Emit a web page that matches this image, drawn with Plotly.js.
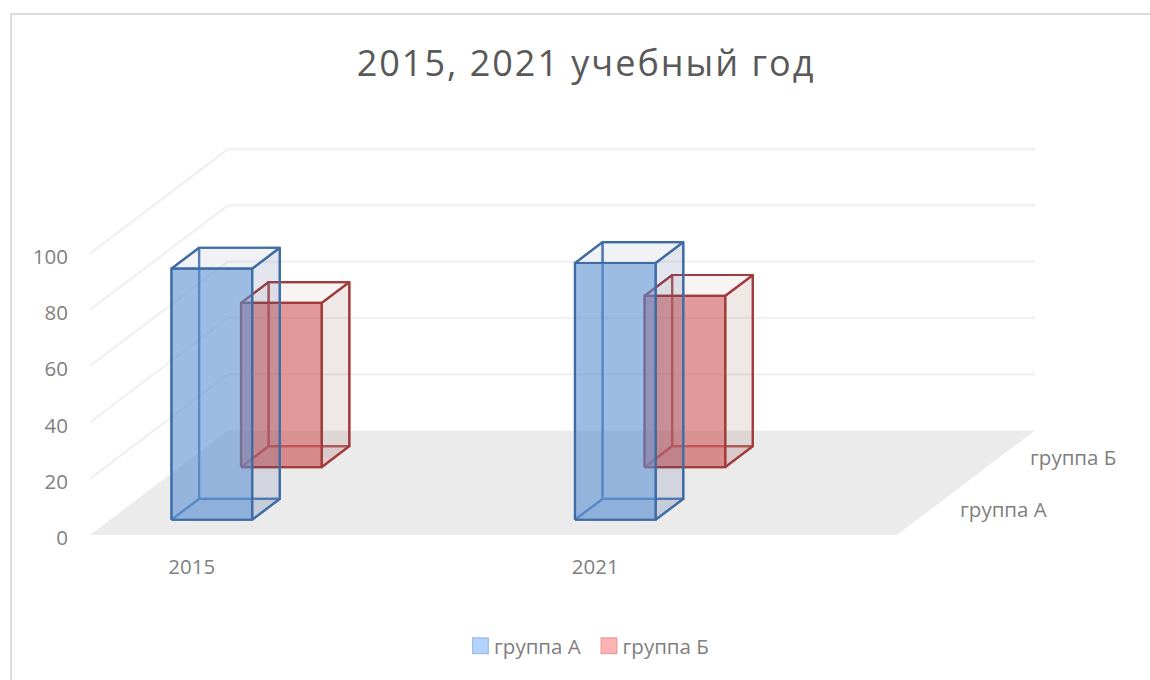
<!DOCTYPE html>
<html>
<head>
<meta charset="utf-8">
<script src="https://cdn.plot.ly/plotly-3.0.1.min.js"></script>
<style>
html,body{margin:0;padding:0;background:#fff;overflow:hidden}
#frame{position:absolute;left:10px;top:13px;width:1140px;height:667px;border-left:2px solid #dcdcdc;border-top:2px solid #dcdcdc;box-sizing:border-box}
#chart{position:absolute;left:0;top:0;width:1150px;height:680px}
.gtitle{letter-spacing:2px}
.legend .legendsymbols{transform:translateX(6.5px)}
</style>
</head>
<body>
<div id="frame"></div>
<div id="chart"></div>
<script>
// ---- data ----
const chartTitle = '2015, 2021 учебный год';
const years = ['2015', '2021'];
const groupNames = ['группа А', 'группа Б'];
const groupA = [89.2, 91.2];
const groupB = [58.3, 60.8];
const yTicks = [0, 20, 40, 60, 80, 100];

// ---- oblique 3D layout (category units, depth 0..1, value units) ----
const catCentres = [0.252, 1.252];
const depthCentres = [0.246, 0.75];
const barHalfWidth = 0.1, barHalfDepth = 0.1, catSpan = 2;
const depthDX = 138 / 403.5, depthDY = 104.5 / 2.815;
const proj = (u, d, v) => [u + d * depthDX, v + d * depthDY];

const L = 90, B = 145, T = 100, R = 50;
const W = 1150, H = 680;
const xMax = (W - L - R) / 403.5, yMax = (H - B - T) / 2.815;

function poly(points) {
  const p = points.concat([points[0]]).map(q => proj(q[0], q[1], q[2]));
  return {x: p.map(q => q[0]), y: p.map(q => q[1])};
}
function polyTrace(points, fill, line, width) {
  const p = poly(points);
  return {type: 'scatter', mode: 'lines', x: p.x, y: p.y, fill: 'toself', fillcolor: fill,
    line: {color: line, width: width, shape: 'linear'}, hoverinfo: 'skip', showlegend: false, cliponaxis: false};
}

const traces = [];
// floor
traces.push(polyTrace([[0,0,0],[catSpan,0,0],[catSpan,1,0],[0,1,0]], '#ebebeb', 'rgba(0,0,0,0)', 0));
// grid
const gx = [], gy = [];
yTicks.filter(v => v > 0).forEach(v => {
  [[0,0],[0,1],[catSpan,1]].forEach(c => { const q = proj(c[0], c[1], v); gx.push(q[0]); gy.push(q[1]); });
  gx.push(null); gy.push(null);
});
traces.push({type: 'scatter', mode: 'lines', x: gx, y: gy, line: {color: '#f1f1f1', width: 2.4},
  hoverinfo: 'skip', showlegend: false, cliponaxis: false});

const styles = [
  {front: 'rgba(92,143,210,0.60)', side: 'rgba(68,90,140,0.15)', top: 'rgba(68,90,140,0.08)', bottom: 'rgba(92,143,210,0.10)', edge: '#3f6ca3', back: '#5582ba'},
  {front: 'rgba(205,85,85,0.60)', side: 'rgba(130,60,60,0.12)', top: 'rgba(130,60,60,0.06)', bottom: 'rgba(205,85,85,0.10)', edge: '#a03c3c', back: '#b55a5a'}
];
const edgeW = 2.2;

function bar(c, g, val, st) {
  const u0 = catCentres[c] - barHalfWidth, u1 = catCentres[c] + barHalfWidth;
  const d0 = depthCentres[g] - barHalfDepth, d1 = depthCentres[g] + barHalfDepth;
  // back faces first, seen through the front
  traces.push(polyTrace([[u0,d1,0],[u1,d1,0],[u1,d1,val],[u0,d1,val]], 'rgba(0,0,0,0)', st.back, edgeW));
  traces.push(polyTrace([[u0,d0,0],[u0,d1,0],[u0,d1,val],[u0,d0,val]], 'rgba(0,0,0,0)', st.back, edgeW));
  traces.push(polyTrace([[u0,d0,0],[u1,d0,0],[u1,d1,0],[u0,d1,0]], st.bottom, st.back, edgeW));
  traces.push(polyTrace([[u1,d0,0],[u1,d1,0],[u1,d1,val],[u1,d0,val]], st.side, st.edge, edgeW));
  traces.push(polyTrace([[u0,d0,val],[u1,d0,val],[u1,d1,val],[u0,d1,val]], st.top, st.edge, edgeW));
  traces.push(polyTrace([[u0,d0,0],[u1,d0,0],[u1,d0,val],[u0,d0,val]], st.front, st.edge, edgeW));
}
// back row first so the front row overlays it
[1, 0].forEach(g => {
  const vals = g === 0 ? groupA : groupB;
  vals.forEach((v, c) => bar(c, g, v, styles[g]));
});

// legend entries
traces.push({type: 'scatter', mode: 'markers', name: groupNames[0], x: [null], y: [null],
  marker: {symbol: 'square', size: 15.5, color: '#b3d4ff', line: {color: '#a3c0e8', width: 1.5}}});
traces.push({type: 'scatter', mode: 'markers', name: groupNames[1], x: [null], y: [null],
  marker: {symbol: 'square', size: 15.5, color: '#ffb3b3', line: {color: '#e8a3a3', width: 1.5}}});

const font = 'Open Sans, sans-serif';
const labelSize = 20.5;
const annotations = groupNames.map((n, g) => {
  const q = proj(catSpan, depthCentres[g], 0);
  return {x: q[0], y: q[1], xref: 'x', yref: 'y', text: n, showarrow: false, xanchor: 'left', yanchor: 'middle',
    xshift: 27, yshift: 0, font: {family: font, size: labelSize, color: '#7f7f7f'}};
});

const layout = {
  width: W, height: H,
  margin: {l: L, r: R, t: T, b: B, pad: 0},
  paper_bgcolor: 'rgba(0,0,0,0)', plot_bgcolor: 'rgba(0,0,0,0)',
  title: {text: chartTitle, x: 586 / W, xanchor: 'center', xref: 'container', y: 1 - 63 / H, yanchor: 'middle', yref: 'container',
    font: {family: font, size: 36, color: '#595959'}},
  xaxis: {range: [0, xMax], showgrid: false, zeroline: false, showline: false, ticks: '',
    tickmode: 'array', tickvals: catCentres, ticktext: years, ticklabelstandoff: 17, fixedrange: true,
    tickfont: {family: font, size: labelSize, color: '#7f7f7f'}},
  yaxis: {range: [0, yMax], showgrid: false, zeroline: false, showline: false, ticks: '',
    tickmode: 'array', tickvals: yTicks, ticktext: yTicks.map(String), ticklabelstandoff: 21, ticklabelshift: 3, fixedrange: true,
    tickfont: {family: font, size: labelSize, color: '#7f7f7f'}},
  showlegend: true,
  legend: {orientation: 'h', x: (582.5 - L) / (W - L - R), xanchor: 'center', y: -0.255, yanchor: 'middle',
    entrywidth: 83.5, entrywidthmode: 'pixels',
    font: {family: font, size: labelSize, color: '#7f7f7f'}, itemclick: false, itemdoubleclick: false},
  annotations: annotations
};
Plotly.newPlot('chart', traces, layout, {displayModeBar: false, responsive: false});
</script>
</body>
</html>
